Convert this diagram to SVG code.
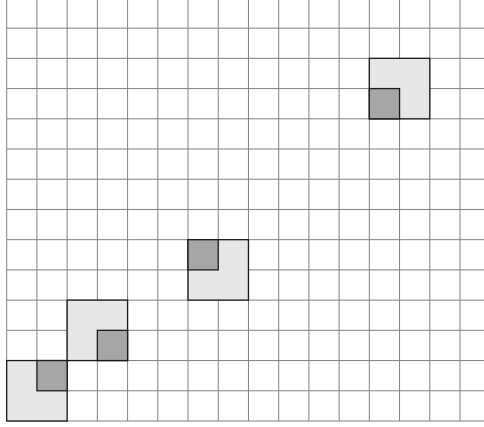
<svg xmlns="http://www.w3.org/2000/svg" width="484" height="427" viewBox="0 0 484 427">
<style>
.g{stroke:#808080;stroke-width:1;fill:none}
.lt{fill:#e6e6e6;stroke:#1a1a1a;stroke-width:1.3}
.dk{fill:#a6a6a6;stroke:#1a1a1a;stroke-width:1.3}
</style>
<rect x="0" y="0" width="484" height="427" fill="#ffffff"/>
<g id="grid" class="g">
<path d="M6.7 0V421M36.92 0V421M67.14 0V421M97.36 0V421M127.58 0V421M157.8 0V421M188.02 0V421M218.24 0V421M248.46 0V421M278.68 0V421M308.9 0V421M339.12 0V421M369.34 0V421M399.56 0V421M429.78 0V421M460 0V421"/>
<path d="M6.7 421H484M6.7 390.78H484M6.7 360.56H484M6.7 330.34H484M6.7 300.12H484M6.7 269.9H484M6.7 239.68H484M6.7 209.46H484M6.7 179.24H484M6.7 149.02H484M6.7 118.8H484M6.7 88.58H484M6.7 58.36H484M6.7 28.14H484"/>
</g>
<g id="blockA">
<rect class="lt" x="6.7" y="360.56" width="60.44" height="60.44"/>
<rect class="dk" x="36.92" y="360.56" width="30.22" height="30.22"/>
</g>
<g id="blockB">
<rect class="lt" x="67.14" y="300.12" width="60.44" height="60.44"/>
<rect class="dk" x="97.36" y="330.34" width="30.22" height="30.22"/>
</g>
<g id="blockC">
<rect class="lt" x="188.02" y="239.68" width="60.44" height="60.44"/>
<rect class="dk" x="188.02" y="239.68" width="30.22" height="30.22"/>
</g>
<g id="blockD">
<rect class="lt" x="369.34" y="58.36" width="60.44" height="60.44"/>
<rect class="dk" x="369.34" y="88.58" width="30.22" height="30.22"/>
</g>
</svg>
